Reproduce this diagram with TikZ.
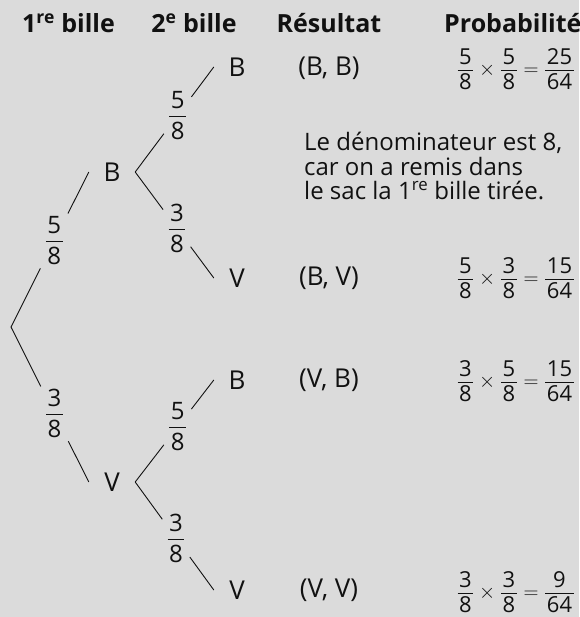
\documentclass[tikz,border=0pt]{standalone}
\usepackage{fontspec}
\setmainfont{Open Sans}
\usetikzlibrary{calc}
\definecolor{bg}{RGB}{219,219,219}
\definecolor{ink}{RGB}{17,17,17}
% fraction with a bar slightly wider than its digits, numerator set close to the bar
\newcommand\fr[2]{\frac{\raisebox{-0.12em}{\kern1.5pt#1\kern1.5pt}}{\mbox{\kern1.5pt#2\kern1.5pt}}}
\begin{document}
\begin{tikzpicture}[x=1pt,y=-1pt,
  every node/.style={text=ink},
  head/.style={font=\fontsize{25}{30}\selectfont\bfseries, anchor=base, inner sep=0pt},
  outcome/.style={font=\fontsize{26}{30}\selectfont, minimum width=46pt, inner xsep=0pt, inner ysep=3pt},
  weight/.style={font=\fontsize{24}{28}\selectfont, inner xsep=4pt, inner ysep=10pt},
  pair/.style={font=\fontsize{26}{30}\selectfont},
  calcul/.style={font=\fontsize{22}{26}\selectfont, anchor=base east, inner sep=0pt},
  note/.style={font=\fontsize{24}{24.5}\selectfont, align=left, anchor=base west, inner sep=0pt},
  branch/.style={draw=ink, line width=0.9pt},
]
\fill[bg] (0,0) rectangle (579,617);
\useasboundingbox (0,0) rectangle (579,617);

% column headings
\node[head] (h1) at (68.5,33) {1\textsuperscript{re} bille};
\node[head] (h2) at (194,33) {2\textsuperscript{e} bille};
\node[head] (h3) at (329,33) {Résultat};
\node[head, anchor=base west] (h4) at (444,33) {Probabilité};

% tree nodes
\coordinate (root) at (11,327);
\node[outcome] (B1) at (112,172) {B};
\node[outcome] (V1) at (112,482) {V};
\node[outcome] (L1) at (237,67) {B};
\node[outcome] (L2) at (237,278) {V};
\node[outcome] (L3) at (237,380) {B};
\node[outcome] (L4) at (237,590) {V};

% branch weights
\node[weight] (fa) at ($(root)!0.555!(B1.west)$) {\(\displaystyle\fr58\)};
\node[weight] (fb) at ($(root)!0.56!(V1.west)$) {\(\displaystyle\fr38\)};
\node[weight] (f1) at ($(B1.east)!0.54!(L1.west)$) {\(\displaystyle\fr58\)};
\node[weight] (f2) at ($(B1.east)!0.53!(L2.west)$) {\(\displaystyle\fr38\)};
\node[weight] (f3) at ($(V1.east)!0.54!(L3.west)$) {\(\displaystyle\fr58\)};
\node[weight] (f4) at ($(V1.east)!0.52!(L4.west)$) {\(\displaystyle\fr38\)};

% branches
\draw[branch] (root) -- (fa) -- (B1.west);
\draw[branch] (root) -- (fb) -- (V1.west);
\draw[branch] (B1.east) -- (f1) -- (L1.west);
\draw[branch] (B1.east) -- (f2) -- (L2.west);
\draw[branch] (V1.east) -- (f3) -- (L3.west);
\draw[branch] (V1.east) -- (f4) -- (L4.west);

% outcomes
\node[pair] (r1) at (329,68) {(B, B)};
\node[pair] (r2) at (329,278) {(B, V)};
\node[pair] (r3) at (329,380) {(V, B)};
\node[pair] (r4) at (329,590) {(V, V)};

% probabilities (baseline sits one axis height below the fraction bar)
\node[calcul] (p1) at (575,75.5) {\(\displaystyle\fr58\times\fr58=\fr{25}{64}\)};
\node[calcul] (p2) at (575,284.5) {\(\displaystyle\fr58\times\fr38=\fr{15}{64}\)};
\node[calcul] (p3) at (575,387.5) {\(\displaystyle\fr38\times\fr58=\fr{15}{64}\)};
\node[calcul] (p4) at (575,598.5) {\(\displaystyle\fr38\times\fr38=\fr{9}{64}\)};

% remark
\node[note] (rem) at (304,200) {Le dénominateur est 8,\\car on a remis dans\\le sac la 1\textsuperscript{re} bille tirée.};
\end{tikzpicture}
\end{document}
